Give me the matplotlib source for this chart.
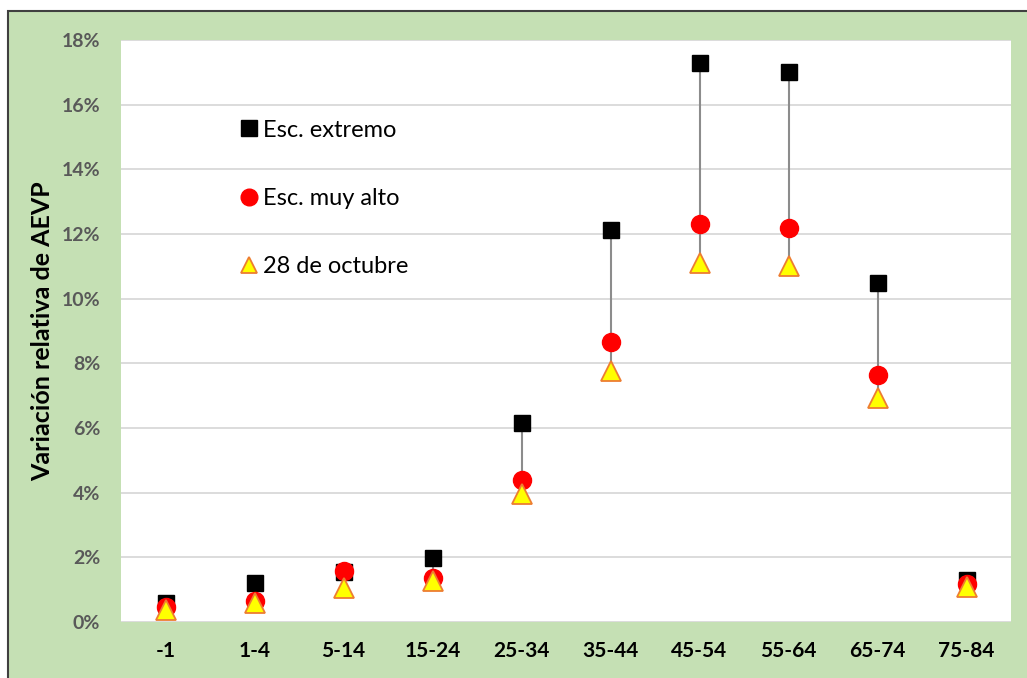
import matplotlib
matplotlib.use("Agg")
import matplotlib.pyplot as plt
from matplotlib.patches import Rectangle
from matplotlib.lines import Line2D
from matplotlib.ticker import FuncFormatter, MultipleLocator

categories = ["-1", "1-4", "5-14", "15-24", "25-34", "35-44", "45-54", "55-64", "65-74", "75-84"]
esc_extremo = [0.59, 1.20, 1.55, 1.98, 6.15, 12.12, 17.30, 17.00, 10.50, 1.30]
esc_muy_alto = [0.45, 0.65, 1.58, 1.36, 4.40, 8.66, 12.30, 12.18, 7.64, 1.17]
oct28 = [0.37, 0.59, 1.05, 1.27, 3.96, 7.76, 11.10, 11.00, 6.93, 1.08]
legend_labels = ["Esc. extremo", "Esc. muy alto", "28 de octubre"]
y_label = "Variación relativa de AEVP"

plt.rcParams['font.family'] = ['Lato', 'DejaVu Sans']

W, H = 1027, 678
fig = plt.figure(figsize=(W / 100, H / 100), dpi=100)
fig.patch.set_facecolor("white")

bg = fig.add_axes([0, 0, 1, 1], zorder=-10)
bg.set_xlim(0, W)
bg.set_ylim(H, 0)
bg.axis("off")
bg.add_patch(Rectangle((8, 11), W + 20, H + 20, facecolor="#C5E0B4",
                       edgecolor="#404040", linewidth=1.5))

ax = fig.add_axes([121 / W, 1 - 622 / H, (1011 - 121) / W, (622 - 40) / H], zorder=1)
ax.set_facecolor("white")
x = [i + 0.5 for i in range(len(categories))]

for xi, lo, hi in zip(x, oct28, esc_extremo):
    ax.plot([xi, xi], [lo, hi], color="#8C8C8C", linewidth=1.5, zorder=2)

ax.plot(x, esc_extremo, linestyle="none", marker="s", markersize=11, color="black",
        markeredgecolor="black", zorder=3)
ax.plot(x, esc_muy_alto, linestyle="none", marker="o", markersize=13, color="#FF0000",
        markeredgecolor="#FF0000", zorder=4)
ax.plot(x, oct28, linestyle="none", marker="^", markersize=15, color="#FFFF00",
        markeredgecolor="#ED7D31", markeredgewidth=1.3, zorder=5)

ax.set_xlim(0, len(categories))
ax.set_ylim(0, 18)
ax.yaxis.set_major_locator(MultipleLocator(2))
ax.yaxis.set_major_formatter(FuncFormatter(lambda v, p: f"{v:.0f}%"))
ax.set_xticks(x)
ax.set_xticklabels(categories)
ax.grid(axis="y", color="#D9D9D9", linewidth=1.3)
ax.set_axisbelow(True)
for s in ax.spines.values():
    s.set_visible(False)
ax.tick_params(length=0)
ax.tick_params(axis="y", pad=15, labelsize=14, labelcolor="#595959")
ax.tick_params(axis="x", pad=14, labelsize=15, labelcolor="black")
for lab in ax.get_yticklabels() + ax.get_xticklabels():
    lab.set_fontweight("bold")
ax.set_ylabel(y_label, fontsize=18, fontweight="bold")
ax.yaxis.set_label_coords(-(121 - 43) / 890, 0.5)
ax.yaxis.label.set_verticalalignment("center")

handles = [
    Line2D([], [], linestyle="none", marker="s", markersize=11.5, color="black"),
    Line2D([], [], linestyle="none", marker="o", markersize=12, color="#FF0000"),
    Line2D([], [], linestyle="none", marker="^", markersize=11, color="#FFFF00",
           markeredgecolor="#ED7D31", markeredgewidth=1.3),
]
leg = ax.legend(handles, legend_labels, loc="upper left", bbox_to_anchor=(0.133, 0.863),
                frameon=False, fontsize=17, handlelength=0.8, handletextpad=0.2,
                labelspacing=2.0, borderaxespad=0, borderpad=0)

fig.savefig("out.png", dpi=100)
